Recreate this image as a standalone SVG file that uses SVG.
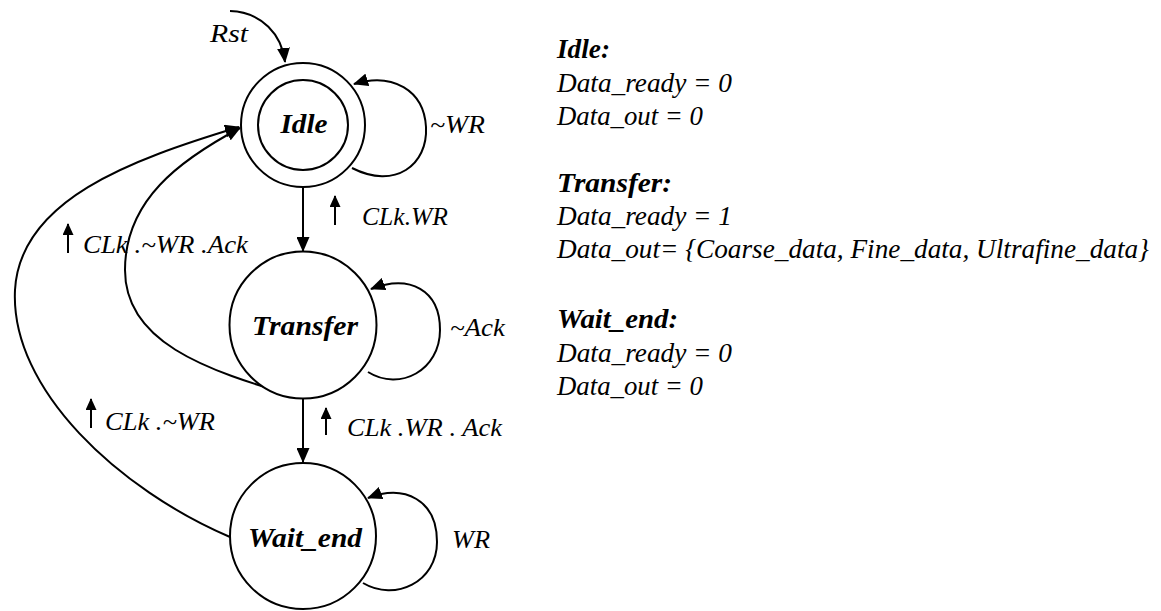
<svg xmlns="http://www.w3.org/2000/svg" width="1161" height="611" viewBox="0 0 1161 611">
<defs>
<marker id="ah" markerWidth="15" markerHeight="13" refX="14" refY="6.5" orient="auto" markerUnits="userSpaceOnUse">
<path d="M0,0 L15,6.5 L0,13 Z" fill="#000"/>
</marker>
<marker id="sa" markerWidth="12" markerHeight="11" refX="11" refY="5.5" orient="auto" markerUnits="userSpaceOnUse">
<path d="M0,0 L12,5.5 L0,11 Z" fill="#000"/>
</marker>
<style>
.st{fill:#fff;stroke:#000;stroke-width:2}
.cn{fill:none;stroke:#000;stroke-width:2;marker-end:url(#ah)}
.up{fill:none;stroke:#000;stroke-width:2;marker-end:url(#sa)}
.nl{font-family:"Liberation Serif",serif;font-style:italic;font-weight:bold;font-size:28px;text-anchor:middle;fill:#000}
.lb{font-family:"Liberation Serif",serif;font-style:italic;font-size:26px;fill:#000}
.lg{font-family:"Liberation Serif",serif;font-style:italic;font-size:27px;fill:#000}
.hd{font-family:"Liberation Serif",serif;font-style:italic;font-weight:bold;font-size:27px;fill:#000}
</style>
</defs>
<rect width="1161" height="611" fill="#fff"/>
<g id="connectors">
<path class="cn" d="M230,11 C262,12 282,35 285,62"/>
<path class="cn" d="M352,168 C395,190 428,165 426,127 C424,90 392,72 354,84"/>
<path class="cn" d="M303,187 L303,251"/>
<path class="cn" d="M368,372 C400,392 440,370 440,330 C440,290 410,274 371,289"/>
<path class="cn" d="M303,399 L303,462"/>
<path class="cn" d="M363,583 C395,602 437,582 437,542 C437,500 405,484 368,498"/>
<path class="cn" d="M230,537 C120,490 10,390 15,290 C20,200 130,160 239,127"/>
<path class="cn" d="M303,398 C200,370 125,340 125,270 C125,200 180,160 240,128"/>
</g>
<g id="node-idle">
<circle class="st" cx="303" cy="125" r="62"/>
<circle class="st" cx="303" cy="125" r="45"/>
<text class="nl" x="304" y="133" textLength="47" lengthAdjust="spacingAndGlyphs">Idle</text>
</g>
<g id="node-transfer">
<circle class="st" cx="303" cy="325" r="73.5"/>
<text class="nl" x="305" y="335" textLength="106" lengthAdjust="spacingAndGlyphs">Transfer</text>
</g>
<g id="node-wait-end">
<circle class="st" cx="303" cy="536" r="73"/>
<text class="nl" x="305" y="547" textLength="114" lengthAdjust="spacingAndGlyphs">Wait_end</text>
</g>
<g id="labels">
<text class="lb" x="210" y="42" textLength="38" lengthAdjust="spacingAndGlyphs">Rst</text>
<text class="lb" x="430" y="133" textLength="55" lengthAdjust="spacingAndGlyphs">~WR</text>
<path class="up" d="M335,225 L335,196"/>
<text class="lb" x="362" y="225" textLength="86" lengthAdjust="spacingAndGlyphs">CLk.WR</text>
<path class="up" d="M68,253 L68,224"/>
<text class="lb" x="83" y="253" textLength="165" lengthAdjust="spacingAndGlyphs">CLk .~WR .Ack</text>
<text class="lb" x="450" y="336" textLength="55" lengthAdjust="spacingAndGlyphs">~Ack</text>
<path class="up" d="M91,428 L91,399"/>
<text class="lb" x="105" y="430" textLength="110" lengthAdjust="spacingAndGlyphs">CLk .~WR</text>
<path class="up" d="M326,435 L326,408"/>
<text class="lb" x="347" y="436" textLength="155" lengthAdjust="spacingAndGlyphs">CLk .WR . Ack</text>
<text class="lb" x="452" y="548" textLength="38" lengthAdjust="spacingAndGlyphs">WR</text>
</g>
<g id="legend">
<text class="hd" x="557" y="58" textLength="53" lengthAdjust="spacingAndGlyphs">Idle:</text>
<text class="lg" x="557" y="92" textLength="175" lengthAdjust="spacingAndGlyphs">Data_ready = 0</text>
<text class="lg" x="557" y="125" textLength="146" lengthAdjust="spacingAndGlyphs">Data_out = 0</text>
<text class="hd" x="557" y="192" textLength="115" lengthAdjust="spacingAndGlyphs">Transfer:</text>
<text class="lg" x="557" y="225" textLength="175" lengthAdjust="spacingAndGlyphs">Data_ready = 1</text>
<text class="lg" x="557" y="258" textLength="592" lengthAdjust="spacingAndGlyphs">Data_out= {Coarse_data, Fine_data, Ultrafine_data}</text>
<text class="hd" x="557" y="328" textLength="121" lengthAdjust="spacingAndGlyphs">Wait_end:</text>
<text class="lg" x="557" y="362" textLength="175" lengthAdjust="spacingAndGlyphs">Data_ready = 0</text>
<text class="lg" x="557" y="395" textLength="146" lengthAdjust="spacingAndGlyphs">Data_out = 0</text>
</g>
</svg>
